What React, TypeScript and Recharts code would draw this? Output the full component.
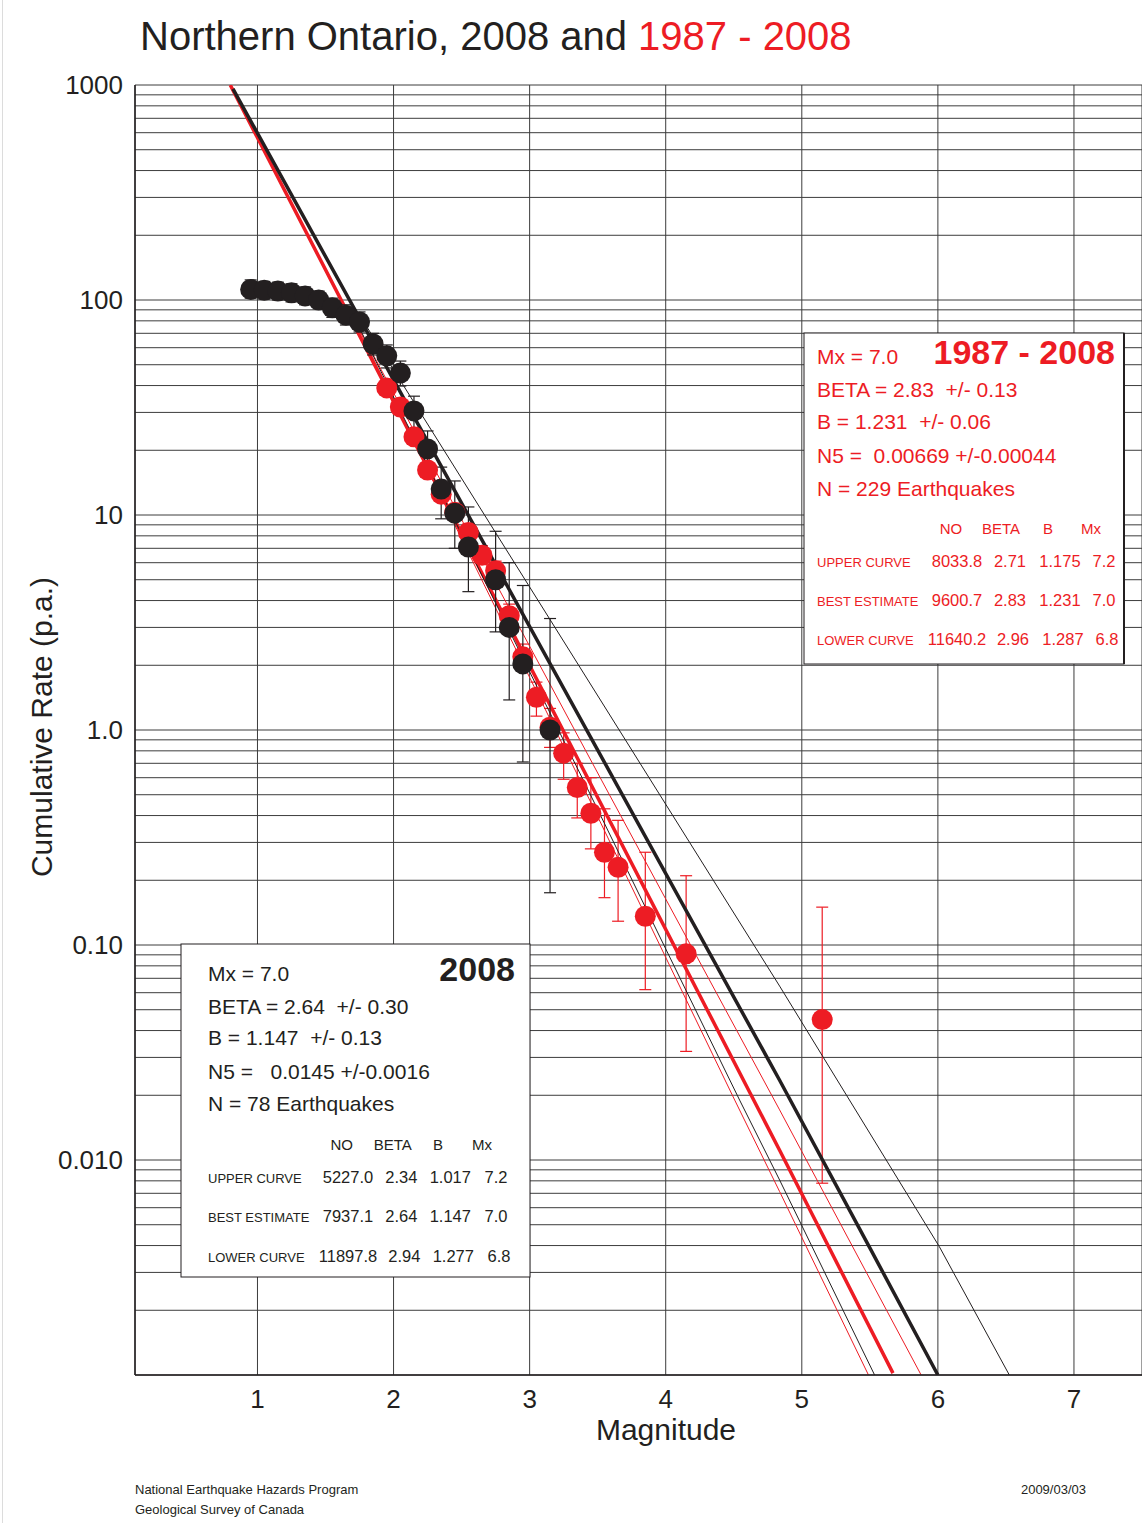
import React from "react";
import { ComposedChart, Line, Scatter, XAxis, YAxis, CartesianGrid, ErrorBar } from "recharts";

const RED = "#ed1c24";
const BLACK = "#231f20";
const GRID = "#3c3c3c";
const FONT = '"Liberation Sans", Arial, Helvetica, sans-serif';

// 2008 catalogue (black dots): magnitude, cumulative rate, error bar ends
const mag2008 = [0.95, 1.05, 1.15, 1.25, 1.35, 1.45, 1.55, 1.65, 1.75, 1.85, 1.95, 2.05, 2.15, 2.25, 2.35, 2.45, 2.55, 2.75, 2.85, 2.95, 3.15];
const rate2008 = [112, 111, 110, 108, 104.5, 100, 92, 85, 79, 62.4, 55, 45.7, 30.5, 20.3, 13.2, 10.2, 7.1, 5.0, 3.0, 2.03, 1.0];
const low2008 = [102, 101, 100, 98, 95, 91, 83, 76.5, 71, 55.5, 48.3, 39.8, 24.8, 15.8, 9.6, 7.0, 4.4, 2.86, 1.38, 0.71, 0.175];
const high2008 = [124, 122, 121, 119, 115, 110, 102, 95, 88, 70, 61.8, 52, 35.7, 24.6, 16.7, 14.4, 10.9, 8.4, 6.0, 4.7, 3.3];

// 1987 - 2008 catalogue (red dots)
const magAll = [1.95, 2.05, 2.15, 2.25, 2.35, 2.45, 2.55, 2.65, 2.75, 2.85, 2.95, 3.05, 3.15, 3.25, 3.35, 3.45, 3.55, 3.65, 3.85, 4.15, 5.15];
const rateAll = [39.0, 31.8, 23.1, 16.2, 12.5, 10.3, 8.3, 6.5, 5.5, 3.4, 2.19, 1.42, 1.03, 0.78, 0.54, 0.41, 0.27, 0.23, 0.136, 0.091, 0.045];
const lowAll = [37.8, 30.8, 22.1, 15.3, 11.7, 9.6, 7.6, 5.9, 4.9, 2.98, 1.88, 1.16, 0.83, 0.59, 0.39, 0.28, 0.166, 0.129, 0.062, 0.032, 0.0078];
const highAll = [40.3, 32.8, 24.0, 17.1, 13.4, 11.1, 9.1, 7.2, 6.1, 3.85, 2.51, 1.67, 1.26, 0.97, 0.7, 0.6, 0.43, 0.38, 0.27, 0.21, 0.15];

// fitted curves
const best2008M = [0.82, 2.636, 4.837, 5.5, 6.0];
const best2008V = [960, 7.93, 0.0235, 0.0039, 0.001];
const upper2008M = [1.75, 2.208, 4.837, 6.011, 6.525];
const upper2008V = [85, 29.2, 0.0644, 0.00395, 0.001];
const lower2008M = [1.75, 3.394, 4.543, 4.837, 5.535];
const lower2008V = [74, 0.585, 0.019, 0.00807, 0.001];
const bestAllM = [0.8, 4.837, 5.67];
const bestAllV = [1000, 0.0111, 0.00102];
const upperAllM = [1.75, 3.528, 4.837, 5.877];
const upperAllV = [73, 0.585, 0.0171, 0.001];
const lowerAllM = [1.75, 3.37, 4.507, 4.837, 5.49];
const lowerAllV = [72, 0.585, 0.019, 0.00713, 0.001];

const xTicks = [1, 2, 3, 4, 5, 6, 7];
const yDecades = [0.001, 0.01, 0.1, 1, 10, 100, 1000];
const yDecadeLabels = ["", "0.010", "0.10", "1.0", "10", "100", "1000"];

// box texts
const columnHeads = ["NO", "BETA", "B", "Mx"];
const curveRows = ["UPPER CURVE", "BEST ESTIMATE", "LOWER CURVE"];
const statsAll = ["BETA = 2.83  +/- 0.13", "B = 1.231  +/- 0.06", "N5 =  0.00669 +/-0.00044", "N = 229 Earthquakes"];
const curvesAll = [
  ["8033.8", "2.71", "1.175", "7.2"],
  ["9600.7", "2.83", "1.231", "7.0"],
  ["11640.2", "2.96", "1.287", "6.8"],
];
const stats2008 = ["BETA = 2.64  +/- 0.30", "B = 1.147  +/- 0.13", "N5 =   0.0145 +/-0.0016", "N = 78 Earthquakes"];
const curves2008 = [
  ["5227.0", "2.34", "1.017", "7.2"],
  ["7937.1", "2.64", "1.147", "7.0"],
  ["11897.8", "2.94", "1.277", "6.8"],
];

const yTicks: number[] = [];
yDecades.slice(0, -1).forEach((d) => {
  for (let k = 1; k <= 9; k++) yTicks.push(d * k);
});
yTicks.push(1000);

const points = (m: number[], v: number[], lo: number[], hi: number[]) =>
  m.map((x, i) => ({ m: x, v: v[i], err: [v[i] - lo[i], hi[i] - v[i]] }));
const curve = (m: number[], v: number[]) => m.map((x, i) => ({ m: x, v: v[i] }));

const data2008 = points(mag2008, rate2008, low2008, high2008);
const dataAll = points(magAll, rateAll, lowAll, highAll);

const YTick = (props: any) => {
  const { x, y, payload } = props;
  const i = yDecades.findIndex((d) => Math.abs(Math.log10(d) - Math.log10(payload.value)) < 1e-6);
  if (i < 0 || !yDecadeLabels[i]) return <g />;
  return (
    <text x={x - 4} y={y + 9} textAnchor="end" fontSize={26} fill={BLACK} fontFamily={FONT}>
      {yDecadeLabels[i]}
    </text>
  );
};

const XTick = (props: any) => {
  const { x, payload } = props;
  return (
    <text x={x} y={1408} textAnchor="middle" fontSize={26} fill={BLACK} fontFamily={FONT}>
      {payload.value}
    </text>
  );
};

const dot = (fill: string) => (p: any) => <circle cx={p.cx} cy={p.cy} r={10.5} fill={fill} />;

interface BoxProps {
  x: number; y: number; w: number; h: number; color: string; title: string;
  labelX: number; titleRight: number; lineY: number[]; headY: number; headX: number[];
  rowY: number[]; numX: number[]; stats: string[]; rows: string[][];
}

function StatBox(b: BoxProps) {
  return (
    <g fontFamily={FONT} fill={b.color}>
      <rect x={b.x} y={b.y} width={b.w} height={b.h} fill="#fff" stroke={BLACK} strokeWidth={1} />
      <text x={b.labelX} y={b.lineY[0]} fontSize={21}>Mx = 7.0</text>
      <text x={b.titleRight} y={b.lineY[0]} fontSize={34} fontWeight="bold" textAnchor="end">{b.title}</text>
      {b.stats.map((s, i) => (
        <text key={s} x={b.labelX} y={b.lineY[i + 1]} fontSize={21} xmlSpace="preserve" style={{ whiteSpace: "pre" }}>{s}</text>
      ))}
      {columnHeads.map((c, i) => (
        <text key={c} x={b.headX[i]} y={b.headY} fontSize={15} textAnchor="middle">{c}</text>
      ))}
      {b.rows.map((r, j) => (
        <g key={j}>
          <text x={b.labelX} y={b.rowY[j]} fontSize={13}>{curveRows[j]}</text>
          {r.map((v, i) => (
            <text key={i} x={b.numX[i] + (j === 2 && i > 0 ? 3 : 0)} y={b.rowY[j]} fontSize={16.5} textAnchor="middle">{v}</text>
          ))}
        </g>
      ))}
    </g>
  );
}

export default function App() {
  return (
    <div style={{ position: "absolute", left: 0, top: 0, width: 1142, height: 1523, background: "#fff" }}>
      <ComposedChart width={1142} height={1523} margin={{ top: 85, right: 0, bottom: 0, left: 0 }}>
        <CartesianGrid stroke={GRID} strokeWidth={1} />
        <XAxis
          type="number"
          dataKey="m"
          domain={[0.1, 7.5]}
          ticks={xTicks}
          interval={0}
          height={148}
          allowDataOverflow
          tickLine={false}
          axisLine={{ stroke: BLACK, strokeWidth: 1.5 }}
          tick={XTick}
        />
        <YAxis
          type="number"
          dataKey="v"
          scale="log"
          domain={[0.001, 1000]}
          ticks={yTicks}
          interval={0}
          width={135}
          allowDataOverflow
          tickLine={false}
          axisLine={{ stroke: BLACK, strokeWidth: 1.5 }}
          tick={YTick}
        />
        <Scatter data={dataAll} fill={RED} shape={dot(RED)} isAnimationActive={false}>
          <ErrorBar dataKey="err" direction="y" width={6} stroke={RED} strokeWidth={1.2} />
        </Scatter>
        <Line data={curve(upperAllM, upperAllV)} dataKey="v" stroke={RED} strokeWidth={1} dot={false} type="linear" isAnimationActive={false} />
        <Line data={curve(lowerAllM, lowerAllV)} dataKey="v" stroke={RED} strokeWidth={1} dot={false} type="linear" isAnimationActive={false} />
        <Line data={curve(bestAllM, bestAllV)} dataKey="v" stroke={RED} strokeWidth={3.5} dot={false} type="linear" isAnimationActive={false} />
        <Line data={curve(upper2008M, upper2008V)} dataKey="v" stroke={BLACK} strokeWidth={1} dot={false} type="linear" isAnimationActive={false} />
        <Line data={curve(lower2008M, lower2008V)} dataKey="v" stroke={BLACK} strokeWidth={1} dot={false} type="linear" isAnimationActive={false} />
        <Line data={curve(best2008M, best2008V)} dataKey="v" stroke={BLACK} strokeWidth={3.5} dot={false} type="linear" isAnimationActive={false} />
        <Scatter data={data2008} fill={BLACK} shape={dot(BLACK)} isAnimationActive={false}>
          <ErrorBar dataKey="err" direction="y" width={6} stroke={BLACK} strokeWidth={1.2} />
        </Scatter>
      </ComposedChart>
      <svg width={1142} height={1523} style={{ position: "absolute", left: 0, top: 0, pointerEvents: "none" }}>
        <line x1={2.5} y1={0} x2={2.5} y2={1523} stroke="#dcdcdc" strokeWidth={1} />
        <text x={140} y={50} fontSize={40} fill={BLACK} fontFamily={FONT} xmlSpace="preserve">
          Northern Ontario, 2008 and <tspan fill={RED}>1987 - 2008</tspan>
        </text>
        <text transform="translate(52,727) rotate(-90)" textAnchor="middle" fontSize={30} fill={BLACK} fontFamily={FONT}>
          Cumulative Rate (p.a.)
        </text>
        <text x={666} y={1440} textAnchor="middle" fontSize={30} fill={BLACK} fontFamily={FONT}>Magnitude</text>
        <text x={135} y={1494} fontSize={13} fill={BLACK} fontFamily={FONT}>National Earthquake Hazards Program</text>
        <text x={135} y={1514} fontSize={13} fill={BLACK} fontFamily={FONT}>Geological Survey of Canada</text>
        <text x={1086} y={1494} fontSize={13} fill={BLACK} fontFamily={FONT} textAnchor="end">2009/03/03</text>
        <StatBox
          x={804} y={333} w={320} h={331} color={RED} title="1987 - 2008"
          labelX={817} titleRight={1115} lineY={[364, 397, 429, 462.5, 496]} headY={533.5}
          headX={[951, 1001, 1048, 1091]} rowY={[566.5, 605.5, 644.5]} numX={[957, 1010, 1060, 1104]}
          stats={statsAll} rows={curvesAll}
        />
        <line x1={1124} y1={333} x2={1124} y2={664} stroke={BLACK} strokeWidth={2} />
        <StatBox
          x={181} y={944} w={349} h={333} color={BLACK} title="2008"
          labelX={208} titleRight={515} lineY={[980.5, 1013.5, 1045, 1078.5, 1111]} headY={1149.5}
          headX={[341.7, 392.7, 438, 482]} rowY={[1183, 1222, 1262]} numX={[348, 401.3, 450.3, 496]}
          stats={stats2008} rows={curves2008}
        />
      </svg>
    </div>
  );
}
